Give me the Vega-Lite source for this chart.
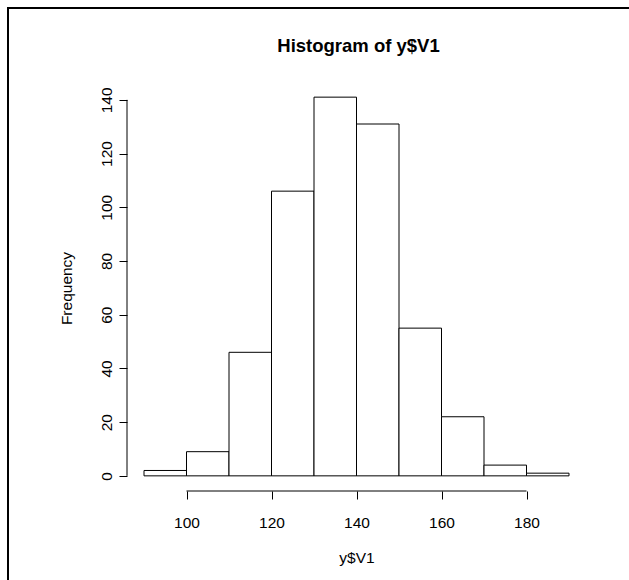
{
  "$schema": "https://vega.github.io/schema/vega-lite/v6.json",
  "width": 459,
  "height": 409,
  "autosize": {"type": "none"},
  "padding": {"left": 127, "top": 82, "right": 43, "bottom": 89},
  "background": "white",
  "config": {
    "view": {"stroke": null},
    "font": "Liberation Sans",
    "axis": {"grid": false, "labelFont": "Liberation Sans", "titleFont": "Liberation Sans", "labelColor": "black", "titleColor": "black", "tickColor": "black", "labelFontSize": 15.5, "titleFontSize": 15.5, "titleFontWeight": "normal", "tickSize": 8, "domain": false}
  },
  "title": {"text": "Histogram of y$V1", "font": "Liberation Sans", "fontSize": 18.5, "fontWeight": "bold", "color": "black", "anchor": "middle", "frame": "group", "baseline": "alphabetic", "offset": 0, "dy": 64, "dx": 2},
  "datasets": {
    "bins": [
      {"start": 90, "end": 100, "count": 2},
      {"start": 100, "end": 110, "count": 9},
      {"start": 110, "end": 120, "count": 46},
      {"start": 120, "end": 130, "count": 106},
      {"start": 130, "end": 140, "count": 141},
      {"start": 140, "end": 150, "count": 131},
      {"start": 150, "end": 160, "count": 55},
      {"start": 160, "end": 170, "count": 22},
      {"start": 170, "end": 180, "count": 4},
      {"start": 180, "end": 190, "count": 1}
    ],
    "xaxis": [{"a": 100, "b": 180, "y": -5.64}],
    "yaxis": [{"a": 0, "b": 140, "x": 86}],
    "frame": [{"x1": 58, "x2": 230, "y1": 174.2, "y2": -60}]
  },
  "layer": [
    {
      "data": {"name": "bins"},
      "mark": {"type": "rect", "fill": "white", "stroke": "black", "strokeWidth": 1},
      "encoding": {
        "x": {"field": "start", "type": "quantitative", "scale": {"domain": [86, 194], "nice": false, "zero": false},
          "axis": {"values": [100, 120, 140, 160, 180], "title": "y$V1", "labelBaseline": "alphabetic", "labelPadding": 28, "titleBaseline": "alphabetic", "titleX": 229.5, "titleY": 71, "titleAnchor": "middle", "titleAlign": "center"}},
        "x2": {"field": "end"},
        "y": {"field": "count", "type": "quantitative", "scale": {"domain": [-5.64, 146.64], "nice": false, "zero": false},
          "axis": {"values": [0, 20, 40, 60, 80, 100, 120, 140], "title": "Frequency", "labelAngle": -90, "labelAlign": "center", "labelBaseline": "alphabetic", "labelPadding": 8, "titleAngle": -90, "titleBaseline": "alphabetic", "titleAlign": "center", "titleX": -56, "titleY": 206}},
        "y2": {"datum": 0}
      }
    },
    {
      "data": {"name": "xaxis"},
      "mark": {"type": "rule", "stroke": "black", "strokeWidth": 1},
      "encoding": {
        "x": {"field": "a", "type": "quantitative"},
        "x2": {"field": "b"},
        "y": {"field": "y", "type": "quantitative"}
      }
    },
    {
      "data": {"name": "yaxis"},
      "mark": {"type": "rule", "stroke": "black", "strokeWidth": 1},
      "encoding": {
        "y": {"field": "a", "type": "quantitative"},
        "y2": {"field": "b"},
        "x": {"field": "x", "type": "quantitative"}
      }
    },
    {
      "data": {"name": "frame"},
      "mark": {"type": "rect", "fill": null, "stroke": "black", "strokeWidth": 2, "clip": false},
      "encoding": {
        "x": {"field": "x1", "type": "quantitative"},
        "x2": {"field": "x2"},
        "y": {"field": "y1", "type": "quantitative"},
        "y2": {"field": "y2"}
      }
    }
  ]
}
